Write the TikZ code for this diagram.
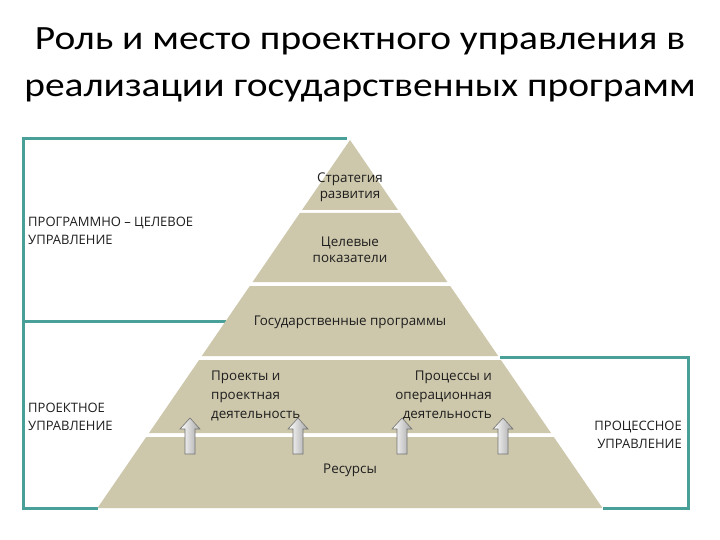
\documentclass[tikz,border=0pt]{standalone}
\usepackage{fontspec}
\setmainfont{Open Sans}
\newfontfamily\titlefont[FakeStretch=1.16]{Carlito}
\definecolor{tanc}{RGB}{205,199,171}
\definecolor{tealc}{RGB}{72,160,152}
\definecolor{txtc}{RGB}{30,30,30}
\begin{document}
\begin{tikzpicture}[x=1pt,y=-1pt,
  band/.style={fill=tanc},
  tealline/.style={draw=tealc, line width=3pt},
  lbl/.style={inner sep=0pt, font=\fontsize{13.4}{16}\selectfont, text=txtc},
  lbltall/.style={inner sep=0pt, font=\fontsize{13.4}{19}\selectfont, text=txtc},
  sidelbl/.style={inner sep=0pt, font=\fontsize{13}{17.5}\selectfont, text=txtc, align=left},
  ttl/.style={inner sep=0pt, font=\titlefont\fontsize{34}{47}\selectfont, anchor=base},
  uparrow/.style={draw=black!55, line width=0.6pt, left color=white, right color=black!35}
]
\useasboundingbox (0,0) rectangle (720,540);
\fill[white] (0,0) rectangle (720,540);

% title
\node[ttl] (t1) at (360,50) {Роль и место проектного управления в};
\node[ttl] (t2) at (360,97) {реализации государственных программ};

% teal frames
\draw[tealline] (347,139) -- (23,139) -- (23,508) -- (98,508);
\draw[tealline] (23,321) -- (226,321);
\draw[tealline] (500,357) -- (688,357) -- (688,508) -- (603,508);

% pyramid bands
\fill[band] (350,140) -- (398.0,210) -- (302.0,210) -- cycle;
\fill[band] (299.9,213) -- (400.1,213) -- (447.4,282) -- (252.6,282) -- cycle;
\fill[band] (249.8,286) -- (450.2,286) -- (498.2,356) -- (201.8,356) -- cycle;
\fill[band] (199.1,360) -- (500.9,360) -- (551.0,433) -- (149.0,433) -- cycle;
\fill[band] (146.2,437) -- (553.8,437) -- (602.5,508) -- (97.5,508) -- cycle;

% pyramid labels
\node[lbl, align=center] (s) at (350,187) {Стратегия\\развития};
\node[lbl, align=center] (c) at (350,250) {Целевые\\показатели};
\node[lbl] (g) at (350,322) {Государственные программы};
\node[lbltall, align=left, anchor=west] (p) at (211,396) {Проекты и\\проектная\\деятельность};
\node[lbltall, align=right, anchor=east] (o) at (492,396) {Процессы и\\операционная\\деятельность};
\node[lbl] (r) at (350,470) {Ресурсы};

% side labels
\node[sidelbl, anchor=west] (pc) at (28,231) {ПРОГРАММНО – ЦЕЛЕВОЕ\\УПРАВЛЕНИЕ};
\node[sidelbl, anchor=west] (pr) at (28,417) {ПРОЕКТНОЕ\\УПРАВЛЕНИЕ};
\node[sidelbl, anchor=east, align=right] (pp) at (682,435) {ПРОЦЕССНОЕ\\УПРАВЛЕНИЕ};

% block arrows
\foreach \ax in {190,298,402,503}{
  \draw[uparrow, shift={(\ax,0)}] (-5,454) -- (-5,429) -- (-10,429) -- (0,418) -- (10,429) -- (5,429) -- (5,454) -- cycle;
}
\end{tikzpicture}
\end{document}
